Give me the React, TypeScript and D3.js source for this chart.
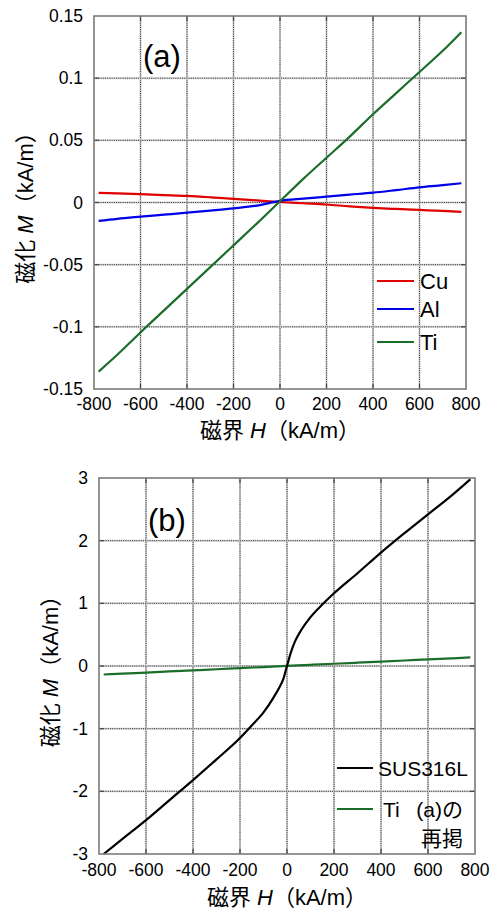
import React from "react";
import * as d3 from "d3";

// ---------- data ----------
const hA = [-780, -700, -600, -500, -400, -300, -200, -100, 0, 100, 200, 300, 400, 500, 600, 700, 780];
const cuM = [0.0078, 0.0074, 0.0067, 0.006, 0.0053, 0.0042, 0.0029, 0.0017, 0.0004, -0.0006, -0.0016, -0.0031, -0.0043, -0.0052, -0.006, -0.0068, -0.0075];
const alM = [-0.0148, -0.0131, -0.0114, -0.0098, -0.0082, -0.0065, -0.0047, -0.0025, 0.0013, 0.0031, 0.0047, 0.0063, 0.0079, 0.01, 0.0122, 0.0139, 0.0155];
const tiM = [-0.136, -0.1225, -0.1045, -0.087, -0.0695, -0.052, -0.0345, -0.017, 0.001, 0.019, 0.036, 0.053, 0.071, 0.088, 0.105, 0.122, 0.137];

const hSus = [-780, -700, -600, -500, -400, -300, -200, -150, -100, -60, -35, -15, 0, 15, 35, 60, 100, 150, 200, 300, 400, 500, 600, 700, 780];
const susM = [-3.0, -2.76, -2.46, -2.14, -1.82, -1.49, -1.15, -0.95, -0.74, -0.52, -0.36, -0.2, 0, 0.2, 0.4, 0.57, 0.78, 0.98, 1.16, 1.48, 1.81, 2.12, 2.42, 2.72, 2.98];

const xTicks = [-800, -600, -400, -200, 0, 200, 400, 600, 800];
const yTicksA = [-0.15, -0.1, -0.05, 0, 0.05, 0.1, 0.15];
const yTickLabelsA = ["-0.15", "-0.1", "-0.05", "0", "0.05", "0.1", "0.15"];
const yTicksB = [-3, -2, -1, 0, 1, 2, 3];
const yTickLabelsB = ["-3", "-2", "-1", "0", "1", "2", "3"];

const legendA = ["Cu", "Al", "Ti"];
const colorsA = ["#e00000", "#0000e6", "#1b6e2a"];

const FONT = "'Liberation Sans', Arial, 'Noto Sans CJK JP', sans-serif";

type Series = { h: number[]; m: number[]; color: string };

function Panel(props: {
  left: number; right: number; top: number; bottom: number;
  yDomain: [number, number]; yTicks: number[]; yLabels: string[];
  series: Series[]; tag: string; tagX: number; tagY: number;
  yTitleX: number; yLabelRight: number; xLabelY: number; xTitleY: number;
  children?: React.ReactNode;
}) {
  const { left, right, top, bottom } = props;
  const x = d3.scaleLinear().domain([-800, 800]).range([left, right]);
  const y = d3.scaleLinear().domain(props.yDomain).range([bottom, top]);
  const line = d3.line<[number, number]>().x(d => x(d[0])).y(d => y(d[1])).curve(d3.curveMonotoneX);
  const cy = (top + bottom) / 2;
  return (
    <g>
      {xTicks.slice(1, -1).map(t => (
        <g key={"gx" + t}>
          <line x1={x(t)} x2={x(t)} y1={top} y2={bottom} stroke="#d2d2d2" strokeWidth={2} />
          <line x1={x(t)} x2={x(t)} y1={top} y2={bottom} stroke="#333" strokeWidth={1} strokeDasharray="1 1.2" />
        </g>
      ))}
      {props.yTicks.slice(1, -1).map(t => (
        <g key={"gy" + t}>
          <line x1={left} x2={right} y1={y(t)} y2={y(t)} stroke="#d2d2d2" strokeWidth={2} />
          <line x1={left} x2={right} y1={y(t)} y2={y(t)} stroke="#333" strokeWidth={1} strokeDasharray="1 1.2" />
        </g>
      ))}
      {xTicks.slice(1, -1).map(t => (
        <g key={"tx" + t}>
          <line x1={x(t)} x2={x(t)} y1={bottom} y2={bottom - 5} stroke="#444" strokeWidth={1.2} />
          <line x1={x(t)} x2={x(t)} y1={top} y2={top + 5} stroke="#444" strokeWidth={1.2} />
        </g>
      ))}
      {props.yTicks.slice(1, -1).map(t => (
        <g key={"ty" + t}>
          <line x1={left} x2={left + 5} y1={y(t)} y2={y(t)} stroke="#444" strokeWidth={1.2} />
          <line x1={right} x2={right - 5} y1={y(t)} y2={y(t)} stroke="#444" strokeWidth={1.2} />
        </g>
      ))}
      {props.series.map((s, i) => (
        <path key={i} d={line(s.h.map((h, j) => [h, s.m[j]] as [number, number])) || ""}
          fill="none" stroke={s.color} strokeWidth={2.2} strokeLinejoin="round" />
      ))}
      <rect x={left} y={top} width={right - left} height={bottom - top} fill="none" stroke="#7a7a7a" strokeWidth={1.6} />
      {xTicks.map(t => (
        <text key={"lx" + t} x={x(t)} y={props.xLabelY} textAnchor="middle" dominantBaseline="central"
          fontSize={17.5} fontFamily={FONT} fill="#000">{t}</text>
      ))}
      {props.yTicks.map((t, i) => (
        <text key={"ly" + t} x={props.yLabelRight} y={y(t)} textAnchor="end" dominantBaseline="central"
          fontSize={17.5} fontFamily={FONT} fill="#000">{props.yLabels[i]}</text>
      ))}
      <text x={(left + right) / 2} y={props.xTitleY} textAnchor="middle" dominantBaseline="central"
        fontSize={22} fontFamily={FONT} fill="#000">
        磁界 <tspan fontStyle="italic">H</tspan>（kA/m）
      </text>
      <text transform={`translate(${props.yTitleX},${cy}) rotate(-90)`} textAnchor="middle" dominantBaseline="central"
        fontSize={22} fontFamily={FONT} fill="#000">
        磁化 <tspan fontStyle="italic">M</tspan>（kA/m）
      </text>
      <text x={props.tagX} y={props.tagY} textAnchor="middle" dominantBaseline="central"
        fontSize={31} fontFamily={FONT} fill="#000">{props.tag}</text>
      {props.children}
    </g>
  );
}

export default function App() {
  const seriesA: Series[] = [
    { h: hA, m: cuM, color: colorsA[0] },
    { h: hA, m: alM, color: colorsA[1] },
    { h: hA, m: tiM, color: colorsA[2] },
  ];
  const seriesB: Series[] = [
    { h: hA, m: tiM, color: colorsA[2] },
    { h: hSus, m: susM, color: "#000" },
  ];
  const legYA = [281, 309, 342];
  return (
    <svg width={491} height={910} style={{ position: "absolute", left: 0, top: 0, background: "#fff" }}>
      <rect width={491} height={910} fill="#fff" />
      <Panel left={94} right={466} top={16} bottom={389} yDomain={[-0.15, 0.15]}
        yTicks={yTicksA} yLabels={yTickLabelsA} series={seriesA} tag="(a)" tagX={162} tagY={56}
        yTitleX={25} yLabelRight={83} xLabelY={404} xTitleY={430}>
        {legendA.map((name, i) => (
          <g key={name}>
            <line x1={377} x2={414} y1={legYA[i]} y2={legYA[i]} stroke={colorsA[i]} strokeWidth={2} />
            <text x={420} y={legYA[i]} dominantBaseline="central" fontSize={22} fontFamily={FONT}>{name}</text>
          </g>
        ))}
      </Panel>
      <Panel left={99} right={475} top={478} bottom={854} yDomain={[-3, 3]}
        yTicks={yTicksB} yLabels={yTickLabelsB} series={seriesB} tag="(b)" tagX={167} tagY={520}
        yTitleX={50} yLabelRight={88} xLabelY={870} xTitleY={897}>
        <line x1={337} x2={373} y1={768} y2={768} stroke="#000" strokeWidth={2} />
        <text x={378} y={768} dominantBaseline="central" fontSize={21} fontFamily={FONT}>SUS316L</text>
        <line x1={337} x2={373} y1={809} y2={809} stroke={colorsA[2]} strokeWidth={2} />
        <text x={383} y={809} dominantBaseline="central" fontSize={21} fontFamily={FONT}>Ti</text>
        <text x={463} y={809} textAnchor="end" dominantBaseline="central" fontSize={21} fontFamily={FONT}>(a)の</text>
        <text x={463} y={838} textAnchor="end" dominantBaseline="central" fontSize={21} fontFamily={FONT}>再掲</text>
      </Panel>
    </svg>
  );
}
